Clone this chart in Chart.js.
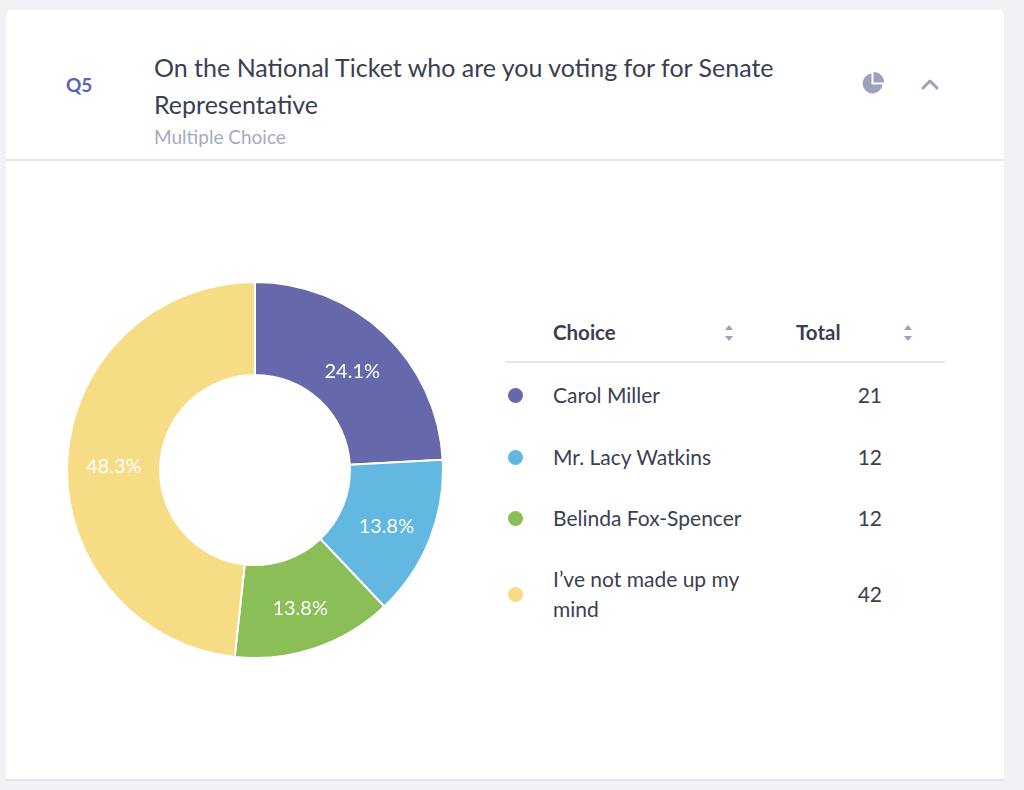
<!DOCTYPE html>
<html>
<head>
<meta charset="utf-8">
<script src="https://cdn.jsdelivr.net/npm/chart.js@4"></script>
<style>
  html, body { margin: 0; padding: 0; }
  body { width: 1024px; height: 790px; background: #f1f2f6; font-family: Lato, "Open Sans", sans-serif; position: relative; overflow: hidden; }
  .card { position: absolute; left: 6px; top: 10px; width: 998px; height: 770px; background: #fff; border-radius: 6px 6px 0 0; }
  .bottomline { position: absolute; left: 6px; top: 779px; width: 998px; height: 2px; background: #e2e3e8; }
  .q { position: absolute; left: 66px; top: 73px; font-size: 19px; font-weight: 700; color: #5b63b4; }
  .title { position: absolute; left: 154px; top: 49px; width: 690px; font-size: 25px; line-height: 37px; color: #3a3f51; }
  .sub { position: absolute; left: 154px; top: 125px; font-size: 19px; color: #a6aabf; }
  .hdiv { position: absolute; left: 6px; top: 159px; width: 998px; height: 2px; background: #e4e5eb; }
  .icon { position: absolute; }
  #wrap { position: absolute; left: 66px; top: 281px; width: 378px; height: 378px; }
  .th { position: absolute; font-size: 20.5px; font-weight: 700; color: #3a3f51; }
  .tdiv { position: absolute; left: 505px; top: 361px; width: 440px; height: 2px; background: #e6e7ec; }
  .row-label { position: absolute; left: 553px; font-size: 21px; line-height: 30px; color: #3a3f51; width: 210px; }
  .row-val { position: absolute; left: 820px; width: 62px; text-align: right; font-size: 21px; color: #3a3f51; }
  .dot { position: absolute; width: 15px; height: 15px; border-radius: 50%; }
</style>
</head>
<body>
<div class="card"></div>
<div class="bottomline"></div>
<div class="q">Q5</div>
<div class="title">On the National Ticket who are you voting for for Senate Representative</div>
<div class="sub">Multiple Choice</div>
<div class="hdiv"></div>
<svg class="icon" style="left:861px;top:71px" width="24" height="24" viewBox="0 0 24 24">
  <path d="M10.5 2.5 A10 10 0 1 0 21.5 13.5 L10.5 13.5 Z" fill="#9da1b9"/>
  <path d="M12.5 1 A10 10 0 0 1 23 11.5 L12.5 11.5 Z" fill="#9da1b9"/>
</svg>
<svg class="icon" style="left:920px;top:77px" width="20" height="14" viewBox="0 0 20 14">
  <path d="M3 11 L10 4 L17 11" fill="none" stroke="#9da1b9" stroke-width="3" stroke-linecap="round" stroke-linejoin="round"/>
</svg>
<div id="wrap"><canvas id="c"></canvas></div>
<div class="th" style="left:553px;top:320px">Choice</div>
<div class="th" style="left:796px;top:320px">Total</div>
<svg class="icon" style="left:724px;top:324px" width="10" height="18" viewBox="0 0 10 18">
  <path d="M5 1 L9 6 L1 6 Z" fill="#9da1b9"/><path d="M5 17 L9 12 L1 12 Z" fill="#9da1b9"/>
</svg>
<svg class="icon" style="left:903px;top:324px" width="10" height="18" viewBox="0 0 10 18">
  <path d="M5 1 L9 6 L1 6 Z" fill="#9da1b9"/><path d="M5 17 L9 12 L1 12 Z" fill="#9da1b9"/>
</svg>
<div class="tdiv"></div>
<div id="rows"></div>
<script>
const categories = ["Carol Miller", "Mr. Lacy Watkins", "Belinda Fox-Spencer", "I\u2019ve not made up my mind"];
const totals = [21, 12, 12, 42];
const colors = ["#6569ab", "#62b8e1", "#8abf57", "#f7dc86"];

// table rows built from the arrays
const rowCenters = [395, 457, 518, 594];
const rowsEl = document.getElementById('rows');
categories.forEach((c, i) => {
  const cy = rowCenters[i];
  const two = c.length > 22;
  const lab = document.createElement('div');
  lab.className = 'row-label';
  lab.textContent = c;
  lab.style.top = (cy - (two ? 30 : 15)) + 'px';
  rowsEl.appendChild(lab);
  const v = document.createElement('div');
  v.className = 'row-val';
  v.textContent = totals[i];
  v.style.top = (cy - 13) + 'px';
  rowsEl.appendChild(v);
  const d = document.createElement('div');
  d.className = 'dot';
  d.style.background = colors[i];
  d.style.left = (515 - 7.5) + 'px';
  d.style.top = (cy - 7.5) + 'px';
  rowsEl.appendChild(d);
});

const pctLabels = {
  id: 'pctLabels',
  afterDatasetsDraw(chart) {
    const ctx = chart.ctx;
    const ds = chart.data.datasets[0];
    const sum = ds.data.reduce((a, b) => a + b, 0);
    const meta = chart.getDatasetMeta(0);
    ctx.save();
    ctx.font = '20px Lato, sans-serif';
    ctx.fillStyle = '#ffffff';
    ctx.textAlign = 'center';
    ctx.textBaseline = 'middle';
    meta.data.forEach((arc, i) => {
      const p = arc.tooltipPosition();
      ctx.fillText((ds.data[i] / sum * 100).toFixed(1) + '%', p.x, p.y + 4);
    });
    ctx.restore();
  }
};

new Chart(document.getElementById('c'), {
  type: 'doughnut',
  data: {
    labels: categories,
    datasets: [{
      data: totals,
      backgroundColor: colors,
      borderColor: '#ffffff',
      borderWidth: 2
    }]
  },
  options: {
    responsive: true,
    maintainAspectRatio: false,
    animation: false,
    cutout: '50.5%',
    layout: { padding: 0 },
    plugins: { legend: { display: false }, tooltip: { enabled: false } }
  },
  plugins: [pctLabels]
});
</script>
</body>
</html>
